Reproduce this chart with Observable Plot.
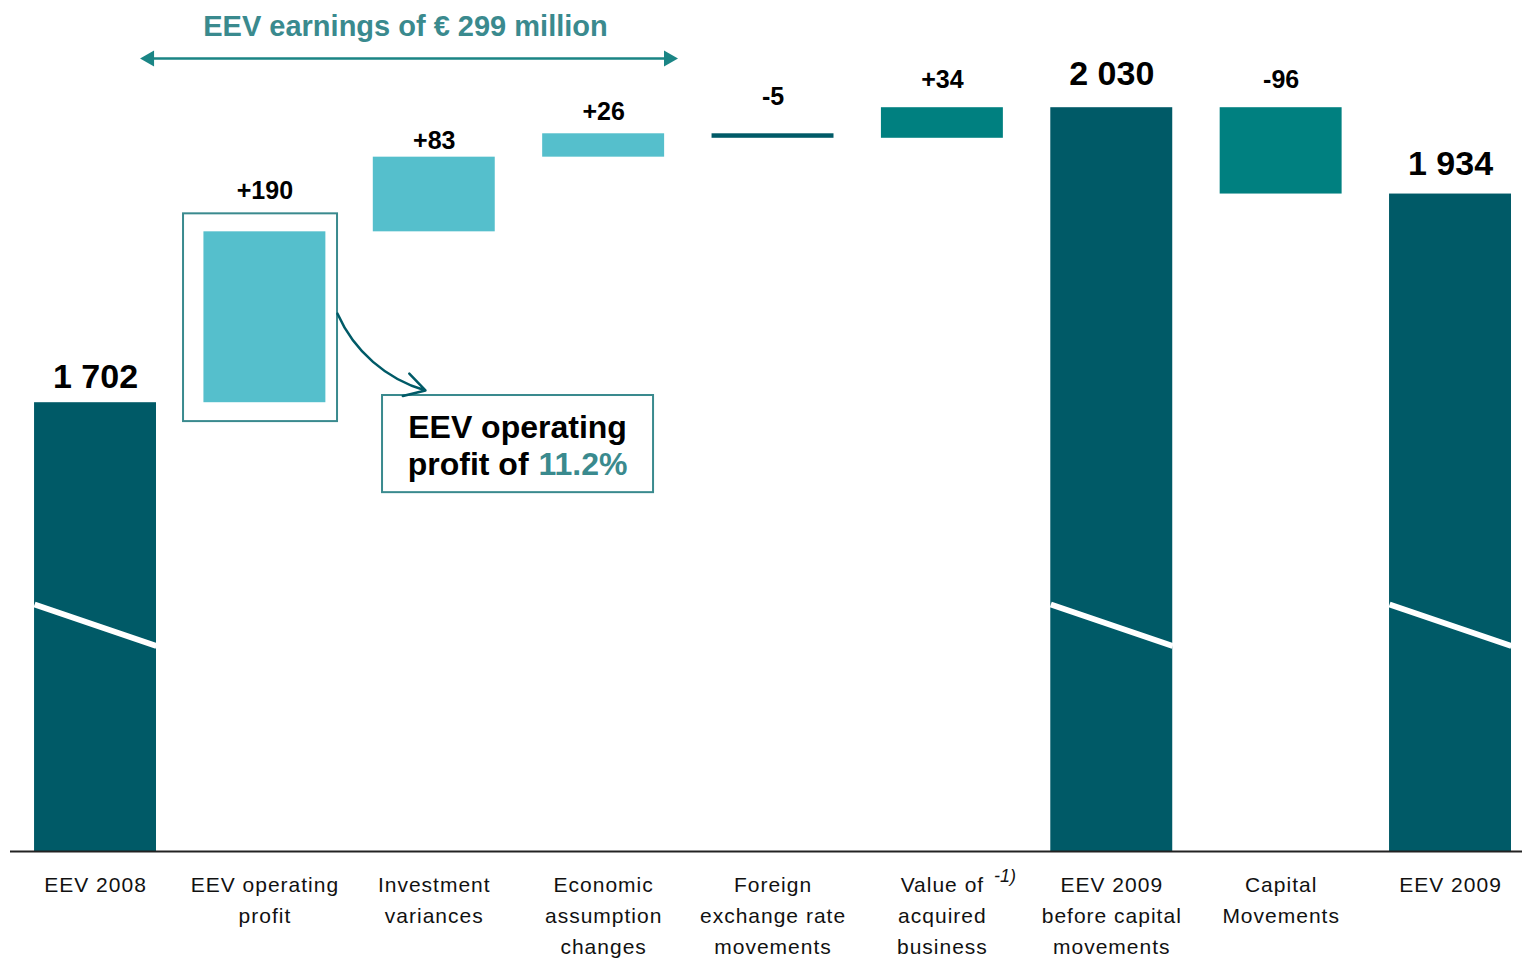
<!DOCTYPE html>
<html><head><meta charset="utf-8">
<script src="https://cdn.jsdelivr.net/npm/d3@7"></script>
<script src="https://cdn.jsdelivr.net/npm/@observablehq/plot@0.6"></script>
<style>html,body{margin:0;padding:0;background:#fff;overflow:hidden}</style>
</head><body><div id="chart"></div>
<script>
const categories = ["EEV 2008", "EEV operating\nprofit", "Investment\nvariances", "Economic\nassumption\nchanges", "Foreign\nexchange rate\nmovements", "Value of\nacquired\nbusiness", "EEV 2009\nbefore capital\nmovements", "Capital\nMovements", "EEV 2009"];
const changes = [1702, 190, 83, 26, -5, 34, 2030, -96, 1934];
const kinds = ["total", "step", "step", "step", "step", "step", "total", "step", "total"];
const groups = ["Total", "Operating", "Operating", "Operating", "FX", "Other", "Total", "Other", "Total"];
const valueLabels = ["1 702", "+190", "+83", "+26", "-5", "+34", "2 030", "-96", "1 934"];
const axisBase = 1203;          // value at the (broken) baseline
const breakMark = [1477.6, 1431.5]; // broken-axis diagonal, left / right

let running = 0;
const rows = categories.map((c, i) => {
  let y1, y2;
  if (kinds[i] === "total") { y1 = axisBase; y2 = changes[i]; running = changes[i]; }
  else { y1 = running; y2 = running + changes[i]; running = y2; }
  return {i, c, y1, y2, top: Math.max(y1, y2), group: groups[i], label: valueLabels[i], kind: kinds[i]};
});
const totals = rows.filter(d => d.kind === "total");
const hw = 0.36;
const font = "Liberation Sans, Arial, sans-serif";
const teal = "#3a8a8e";
const arrowTeal = "#1a8585";
const labelDy = [-26, -41, -16, -22, -37, -28, -34, -28, -30];
const arrowY = 2084.7;

const marks = [
  Plot.rect(rows, {x1: d => d.i - hw, x2: d => d.i + hw, y1: "y1", y2: "y2", fill: "group"}),
  Plot.link(totals, {x1: d => d.i - hw, x2: d => d.i + hw, y1: () => breakMark[0], y2: () => breakMark[1], stroke: "white", strokeWidth: 6}),
  Plot.ruleY([axisBase], {stroke: "#222", strokeWidth: 2}),
  Plot.text(rows, {x: "i", y: () => axisBase, text: "c", lineAnchor: "top", dy: 19, fontSize: 21, lineHeight: 1.47, fill: "#111", fontFamily: font}),
  Plot.text(["-1)"], {x: () => 5.37, y: () => axisBase, text: d => d, lineAnchor: "top", dy: 18, fontSize: 18, fontStyle: "italic", fill: "#111", fontFamily: font}),
  ...rows.map((d, k) => Plot.text([d], {x: "i", y: "top", text: "label", dy: labelDy[k], fontSize: d.kind === "total" ? 34 : 25, fontWeight: "bold", fill: "#000", fontFamily: font})),
  // highlight box around operating profit
  Plot.rect([0], {x1: () => 0.5196, x2: () => 1.4288, y1: () => 1681, y2: () => 1912, fill: "none", stroke: teal, strokeWidth: 2}),
  // callout box
  Plot.rect([0], {x1: () => 1.6945, x2: () => 3.2946, y1: () => 1602, y2: () => 1710, fill: "white", stroke: teal, strokeWidth: 2}),
  Plot.text(["EEV operating"], {x: () => 2.4916, y: () => 1674.4, text: d => d, fontSize: 32, fontWeight: "bold", fill: "#000", fontFamily: font}),
  Plot.text(["profit of"], {x: () => 2.5566, y: () => 1633.3, text: d => d, textAnchor: "end", fontSize: 32, fontWeight: "bold", fill: "#000", fontFamily: font}),
  Plot.text(["11.2%"], {x: () => 2.6156, y: () => 1633.3, text: d => d, textAnchor: "start", fontSize: 32, fontWeight: "bold", fill: teal, fontFamily: font}),
  Plot.arrow([0], {x1: () => 1.4288, y1: () => 1801, x2: () => 1.948, y2: () => 1715.6, bend: -25, stroke: "#005a67", strokeWidth: 2.5, headLength: 14}),
  // double arrow
  Plot.link([0], {x1: () => 0.30, x2: () => 3.40, y1: () => arrowY, y2: () => arrowY, stroke: arrowTeal, strokeWidth: 2.5}),
  Plot.dot([{x: 0.266 + 0.052, r: -90}, {x: 3.436 - 0.052, r: 90}], {x: "x", y: () => arrowY, symbol: "triangle", r: 6, rotate: "r", fill: arrowTeal, stroke: "none"}),
  Plot.text(["EEV earnings of € 299 million"], {x: () => 1.83, y: () => 2120.3, text: d => d, fontSize: 29, fontWeight: "bold", fill: teal, fontFamily: font})
];

const chart = Plot.plot({
  width: 1522, height: 959,
  marginLeft: 10, marginRight: 0, marginTop: 0, marginBottom: 108,
  style: {fontFamily: font, background: "white"},
  x: {axis: null, domain: [-0.502, 8.425]},
  y: {axis: null, domain: [axisBase, 2149.2]},
  color: {domain: ["Total", "Operating", "FX", "Other"], range: ["#005a67", "#55bfcc", "#005a67", "#008080"]},
  marks
});
const catSet = new Set(categories.map(c => c.replace(/\n/g, "")));
d3.select(chart).selectAll("text")
  .filter(function() { return catSet.has(this.textContent); })
  .style("letter-spacing", "1px");
document.getElementById("chart").appendChild(chart);
</script>
</body></html>
